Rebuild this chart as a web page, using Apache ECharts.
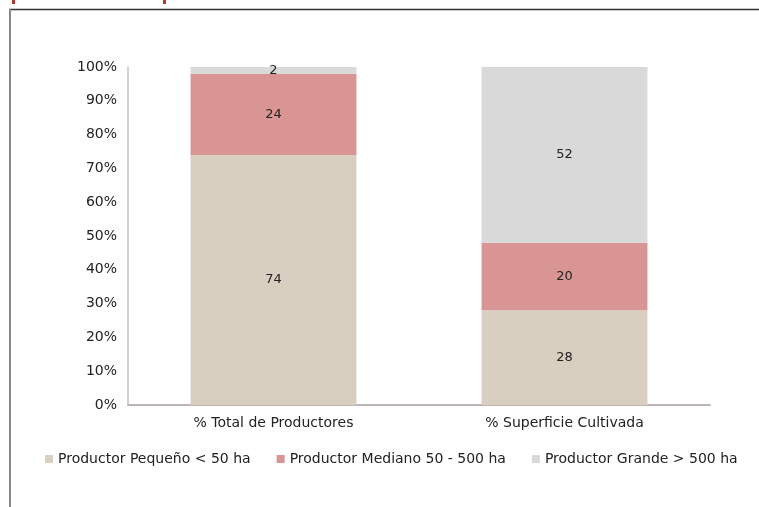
<!DOCTYPE html>
<html><head><meta charset="utf-8">
<script src="https://cdn.jsdelivr.net/npm/echarts@6/dist/echarts.min.js"></script>
<style>html,body{margin:0;padding:0;background:#fff}#c{width:759px;height:507px}</style>
</head><body><div id="c"></div>
<script>
const categories = ['% Total de Productores', '% Superficie Cultivada'];
const seriesNames = ['Productor Pequeño < 50 ha', 'Productor Mediano 50 - 500 ha', 'Productor Grande > 500 ha'];
const pequeno = [74, 28];
const mediano = [24, 20];
const grande = [2, 52];
const yTicks = [0, 10, 20, 30, 40, 50, 60, 70, 80, 90, 100];
const colors = ['#d8cfc0', '#d99494', '#d9d9d9'];

const font = '"DejaVu Sans", sans-serif';
const chart = echarts.init(document.getElementById('c'));
const mk = (name, data, i) => ({
  name, type: 'bar', stack: 'total', data, barWidth: '57%',
  itemStyle: { color: colors[i] },
  label: { show: true, position: 'inside', color: '#222', fontSize: 13, fontFamily: font }
});
chart.setOption({
  backgroundColor: '#fff',
  animation: false,
  grid: { left: 128, right: 49, top: 67, bottom: 102, containLabel: false },
  xAxis: {
    type: 'category', data: categories,
    axisLine: { lineStyle: { color: '#bdb5b5', width: 2 } },
    axisTick: { show: false },
    axisLabel: { color: '#222', fontSize: 14, fontFamily: font, margin: 11 }
  },
  yAxis: {
    type: 'value', min: yTicks[0], max: yTicks[yTicks.length - 1], interval: 10,
    axisLine: { show: true, lineStyle: { color: '#c8c0c0', width: 1.5 } },
    axisTick: { show: false },
    splitLine: { show: false },
    axisLabel: { color: '#222', fontSize: 14, fontFamily: font, margin: 11, formatter: '{value}%' }
  },
  legend: {
    data: seriesNames, left: 40, top: 447, itemWidth: 8, itemHeight: 8, itemGap: 26,
    icon: 'rect',
    textStyle: { color: '#222', fontSize: 14, fontFamily: font }
  },
  graphic: [
    { type: 'line', shape: { x1: 9, y1: 9.5, x2: 759, y2: 9.5 }, style: { stroke: '#333', lineWidth: 1.5 } },
    { type: 'line', shape: { x1: 10, y1: 9, x2: 10, y2: 507 }, style: { stroke: '#888', lineWidth: 2 } },
    { type: 'rect', shape: { x: 12, y: 0, width: 3, height: 4 }, style: { fill: '#b03a2e' } },
    { type: 'rect', shape: { x: 163, y: 0, width: 3, height: 4 }, style: { fill: '#b03a2e' } }
  ],
  series: [mk(seriesNames[0], pequeno, 0), mk(seriesNames[1], mediano, 1), mk(seriesNames[2], grande, 2)]
});
</script></body></html>
